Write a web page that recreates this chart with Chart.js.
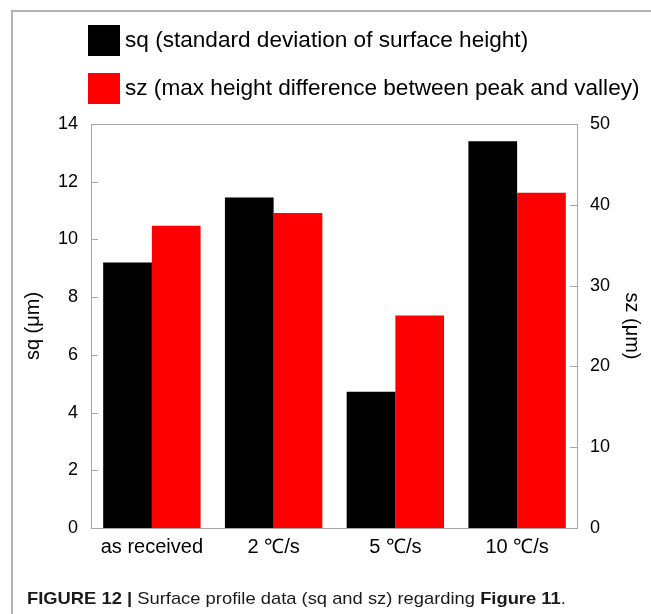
<!DOCTYPE html>
<html>
<head>
<meta charset="utf-8">
<script src="https://cdn.jsdelivr.net/npm/chart.js@4/dist/chart.umd.min.js"></script>
<style>
  html, body { margin: 0; padding: 0; background: #fff; }
  #wrap { position: relative; width: 651px; height: 614px; }
</style>
</head>
<body>
<div id="wrap"><canvas id="c" width="651" height="614"></canvas></div>
<script>
// Surface profile data per cooling condition
const categories = ['as received', '2 \u2103/s', '5 \u2103/s', '10 \u2103/s'];
const sqValues = [9.2, 11.45, 4.72, 13.4];     // sq, µm (left axis)
const szValues = [37.4, 39.0, 26.3, 41.5];     // sz, µm (right axis)
const seriesLabels = [
  'sq (standard deviation of surface height)',
  'sz (max height difference between peak and valley)'
];
const seriesColors = ['#000000', '#ff0000'];
const sqAxis = { min: 0, max: 14, step: 2, title: 'sq (\u03bcm)' };
const szAxis = { min: 0, max: 50, step: 10, title: 'sz (\u03bcm)' };
const captionParts = [
  { text: 'FIGURE 12 | ', bold: true },
  { text: 'Surface profile data (sq and sz) regarding ', bold: false },
  { text: 'Figure 11', bold: true },
  { text: '.', bold: false }
];

const FONT = '"Liberation Sans", Arial, sans-serif';
const AXIS_GRAY = '#a6a6a6';

// Frame, legend, plot box, inward ticks and caption
const decorations = {
  id: 'decorations',
  afterDatasetsDraw(chart) {
    const ctx = chart.ctx;
    const a = chart.chartArea;
    ctx.save();
    // plot box
    ctx.strokeStyle = AXIS_GRAY;
    ctx.lineWidth = 1;
    ctx.strokeRect(Math.round(a.left) + 0.5, Math.round(a.top) + 0.5,
                   Math.round(a.right - a.left) - 1, Math.round(a.bottom - a.top));
    // inward tick marks
    const tickLen = 7;
    ['y', 'y1'].forEach(id => {
      const s = chart.scales[id];
      s.ticks.forEach(t => {
        const py = Math.round(s.getPixelForValue(t.value)) + 0.5;
        ctx.beginPath();
        if (id === 'y') { ctx.moveTo(a.left, py); ctx.lineTo(a.left + tickLen, py); }
        else { ctx.moveTo(a.right - 1, py); ctx.lineTo(a.right - 1 - tickLen, py); }
        ctx.stroke();
      });
    });
    ctx.restore();
  },
  afterDraw(chart) {
    const ctx = chart.ctx;
    ctx.save();
    // outer frame (top and left edges)
    ctx.strokeStyle = '#b3b3b3';
    ctx.lineWidth = 2;
    ctx.beginPath();
    ctx.moveTo(12, 614); ctx.lineTo(12, 11); ctx.lineTo(651, 11);
    ctx.stroke();
    // legend
    ctx.textBaseline = 'middle';
    ctx.textAlign = 'left';
    ctx.font = '22.6px ' + FONT;
    chart.data.datasets.forEach((ds, i) => {
      const y = 25 + i * 48;
      ctx.fillStyle = ds.backgroundColor;
      ctx.fillRect(88, y, 32, 31);
      ctx.fillStyle = '#000';
      ctx.fillText(ds.label, 125, y + 16);
    });
    // caption (slightly widened face)
    ctx.textBaseline = 'alphabetic';
    ctx.translate(27, 604);
    ctx.scale(1.08, 1);
    let x = 0;
    captionParts.forEach(p => {
      ctx.font = (p.bold ? 'bold ' : '') + '17px ' + FONT;
      ctx.fillStyle = '#1a1a1a';
      ctx.fillText(p.text, x, 0);
      x += ctx.measureText(p.text).width;
    });
    ctx.restore();
  }
};

new Chart(document.getElementById('c'), {
  type: 'bar',
  data: {
    labels: categories,
    datasets: [
      { label: seriesLabels[0], data: sqValues, backgroundColor: seriesColors[0], yAxisID: 'y' },
      { label: seriesLabels[1], data: szValues, backgroundColor: seriesColors[1], yAxisID: 'y1' }
    ]
  },
  options: {
    responsive: false,
    animation: false,
    devicePixelRatio: 1,
    layout: { padding: { top: 124, left: 0, right: 0, bottom: 0 } },
    datasets: { bar: { barPercentage: 1.0, categoryPercentage: 0.8 } },
    plugins: { legend: { display: false }, tooltip: { enabled: false } },
    scales: {
      x: {
        grid: { display: false, drawTicks: false },
        border: { display: false },
        ticks: { color: '#000', padding: 7, font: { family: FONT, size: 20 } },
        afterFit(s) { s.height = 86; }
      },
      y: {
        position: 'left',
        min: sqAxis.min, max: sqAxis.max,
        grid: { display: false, drawTicks: false },
        border: { display: false },
        ticks: { stepSize: sqAxis.step, color: '#000', padding: 13, font: { family: FONT, size: 18 } },
        title: { display: true, text: sqAxis.title, color: '#000', padding: { top: 21, bottom: 0 }, font: { family: FONT, size: 20 } },
        afterFit(s) { s.width = 91; }
      },
      y1: {
        position: 'right',
        min: szAxis.min, max: szAxis.max,
        grid: { display: false, drawTicks: false },
        border: { display: false },
        ticks: { stepSize: szAxis.step, color: '#000', padding: 12, font: { family: FONT, size: 18 } },
        title: { display: true, text: szAxis.title, color: '#000', padding: { top: 7, bottom: 0 }, font: { family: FONT, size: 20 } },
        afterFit(s) { s.width = 73; }
      }
    }
  },
  plugins: [decorations]
});
</script>
</body>
</html>
